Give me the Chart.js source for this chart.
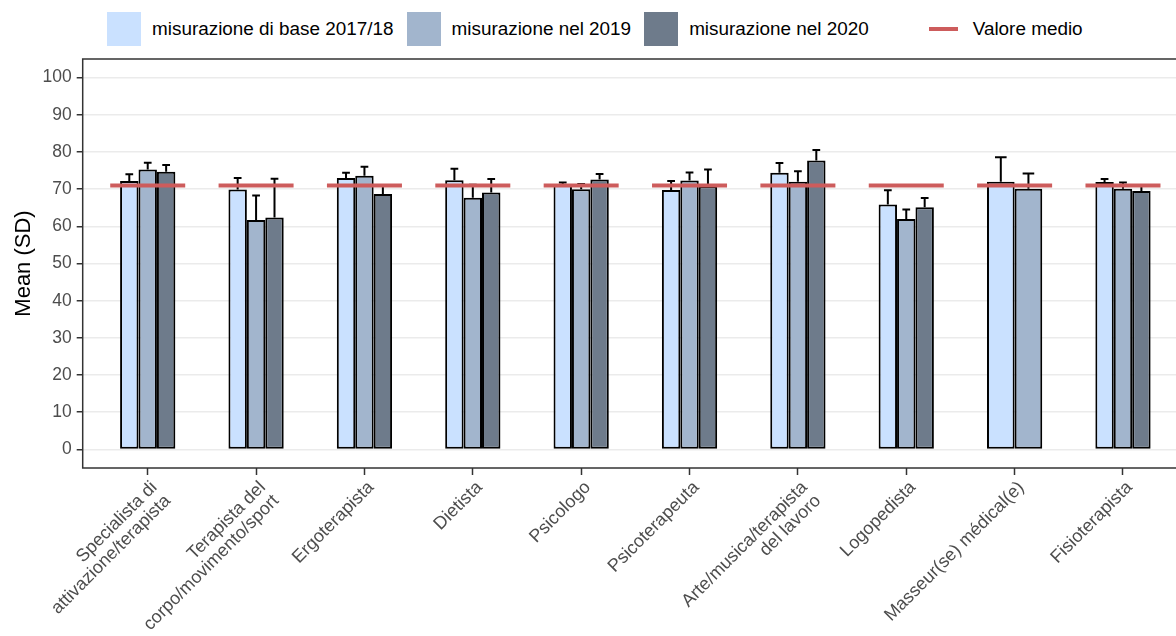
<!DOCTYPE html>
<html>
<head>
<meta charset="utf-8">
<script src="https://cdn.jsdelivr.net/npm/chart.js@4.4.1/dist/chart.umd.min.js"></script>
<style>
    body { margin: 0; background: #fff; overflow: hidden; font-family: "Liberation Sans", Arial, sans-serif; }
    #wrap { position: relative; width: 1176px; height: 636px; overflow: hidden; }
    #chart { position: absolute; left: 0; top: 0; }
    #legend { position: absolute; top: 12px; left: 107px; display: flex; align-items: center; height: 34px; font-size: 18.9px; color: #000; }
    .key { width: 34px; height: 34px; }
    .key-line { width: 34px; height: 34px; position: relative; }
    .key-line span { position: absolute; left: 2.5px; top: 15px; width: 29px; height: 4px; }
    .lab { margin-left: 11px; margin-right: 13px; white-space: nowrap; }
</style>
</head>
<body>
<div id="wrap">
    <div id="legend"></div>
    <canvas id="chart" width="1188" height="636"></canvas>
</div>
<script>
// Chart data
const categories = [
    ['Specialista di', 'attivazione/terapista'],
    ['Terapista del', 'corpo/movimento/sport'],
    'Ergoterapista',
    'Dietista',
    'Psicologo',
    'Psicoterapeuta',
    ['Arte/musica/terapista', 'del lavoro'],
    'Logopedista',
    'Masseur(se) médical(e)',
    'Fisioterapista'
];

const seriesNames = ['misurazione di base 2017/18', 'misurazione nel 2019', 'misurazione nel 2020'];
const seriesColors = ['#cae1ff', '#a2b5cd', '#6e7b8b'];

const mean2017 = [72.2, 69.9, 73.0, 72.4, 71.2, 69.8, 74.4, 65.9, 72.0, 71.9];
const mean2019 = [75.3, 61.7, 73.6, 67.7, 70.0, 72.3, 72.0, 62.0, 70.1, 70.1];
const mean2020 = [74.7, 62.4, 68.7, 69.1, 72.6, 70.8, 77.7, 65.1, null, 69.5];

const sd2017 = [1.8, 3.1, 1.4, 3.1, 0.6, 2.4, 2.6, 3.8, 6.6, 0.8];
const sd2019 = [1.8, 6.6, 2.4, 3.5, 1.4, 2.2, 2.8, 2.5, 4.1, 1.7];
const sd2020 = [1.8, 10.4, 2.3, 3.6, 1.5, 4.5, 2.8, 2.5, null, 1.5];

const overallLabel = 'Valore medio';
const overallColor = '#cd5c5c';
const overallMean = [71.0, 71.0, 71.0, 71.0, 71.0, 71.0, 71.0, 71.0, 71.0, 71.0];

const yTicks = [0, 10, 20, 30, 40, 50, 60, 70, 80, 90, 100];

const seriesMeans = [mean2017, mean2019, mean2020];
const seriesSds = [sd2017, sd2019, sd2020];

// Build the legend (ggplot-like, on top)
function buildLegend() {
    const legend = document.getElementById('legend');
    let html = '';
    seriesNames.forEach((name, i) => {
        html += `<div class="key" style="background:${seriesColors[i]}"></div><div class="lab">${name}</div>`;
    });
    html += `<div class="key-line" style="margin-left:45px"><span style="background:${overallColor}"></span></div><div class="lab" style="margin-left:12px">${overallLabel}</div>`;
    legend.innerHTML = html;
}

// Error bars (mean + SD), drawn before the mean segments
const errorBars = {
    id: 'errorBars',
    beforeDatasetDraw(chart, args) {
        if (args.index !== 3) return;
        const ctx = chart.ctx;
        const y = chart.scales.y;
        ctx.save();
        ctx.strokeStyle = '#000';
        ctx.lineWidth = 2;
        seriesMeans.forEach((vals, d) => {
            const meta = chart.getDatasetMeta(d);
            meta.data.forEach((bar, i) => {
                if (vals[i] === null || seriesSds[d][i] === null) return;
                const top = y.getPixelForValue(vals[i] + seriesSds[d][i]);
                const half = bar.width * 0.21;
                ctx.beginPath();
                ctx.moveTo(bar.x, bar.y);
                ctx.lineTo(bar.x, top);
                ctx.moveTo(bar.x - half, top);
                ctx.lineTo(bar.x + half, top);
                ctx.stroke();
            });
        });
        ctx.restore();
    }
};

// Panel border
const panelBorder = {
    id: 'panelBorder',
    afterDraw(chart) {
        const a = chart.chartArea;
        const ctx = chart.ctx;
        ctx.save();
        ctx.strokeStyle = '#333';
        ctx.lineWidth = 1.5;
        ctx.strokeRect(a.left, a.top, a.right - a.left, a.bottom - a.top);
        ctx.restore();
    }
};

function createChart() {
    const datasets = seriesMeans.map((vals, d) => ({
        type: 'bar',
        label: seriesNames[d],
        data: vals.map((v, i) => ({ x: i, y: v })),
        backgroundColor: seriesColors[d],
        borderColor: '#000',
        borderWidth: 2,
        borderSkipped: false,
        categoryPercentage: 0.51,
        barPercentage: 1.0,
        skipNull: true
    }));

    datasets.push({
        type: 'line',
        label: overallLabel,
        data: overallMean.map((v, i) => ({ x: i, y: v })),
        showLine: false,
        pointStyle: 'line',
        pointRadius: 37.5,
        pointHoverRadius: 37.5,
        pointBorderWidth: 4,
        pointBorderColor: overallColor,
        order: -1
    });

    const fontFamily = '"Liberation Sans", Arial, sans-serif';

    new Chart(document.getElementById('chart'), {
        type: 'bar',
        data: { datasets },
        options: {
            responsive: false,
            animation: false,
            events: [],
            layout: { autoPadding: false, padding: { top: 59, left: 0, right: 0, bottom: 0 } },
            plugins: {
                legend: { display: false },
                tooltip: { enabled: false }
            },
            scales: {
                x: {
                    type: 'linear',
                    offset: false,
                    min: -0.6,
                    max: 9.6,
                    afterBuildTicks: scale => { scale.ticks = categories.map((c, i) => ({ value: i })); },
                    afterFit: scale => { scale.height = 168; },
                    ticks: {
                        autoSkip: false,
                        minRotation: 45,
                        maxRotation: 45,
                        padding: 3,
                        color: '#4d4d4d',
                        font: { family: fontFamily, size: 18, lineHeight: 1.05 },
                        showLabelBackdrop: true,
                        backdropColor: 'rgba(0,0,0,0)',
                        callback: value => categories[value]
                    },
                    grid: { offset: false, drawOnChartArea: false, tickLength: 7, tickColor: '#333', tickWidth: 1.5 },
                    border: { display: false }
                },
                y: {
                    min: -5,
                    max: 105,
                    afterBuildTicks: scale => { scale.ticks = yTicks.map(v => ({ value: v })); },
                    afterFit: scale => { scale.width = 82.7; },
                    ticks: { padding: 5, color: '#4d4d4d', font: { family: fontFamily, size: 17.5 } },
                    grid: { color: '#ebebeb', lineWidth: 1.5, tickLength: 6, tickColor: '#333', tickWidth: 1.5 },
                    border: { display: false },
                    title: {
                        display: true,
                        text: 'Mean (SD)',
                        color: '#000',
                        padding: { top: 11, bottom: 0 },
                        font: { family: fontFamily, size: 22 }
                    }
                }
            }
        },
        plugins: [errorBars, panelBorder]
    });
}

document.addEventListener('DOMContentLoaded', () => {
    buildLegend();
    createChart();
});
</script>
</body>
</html>
